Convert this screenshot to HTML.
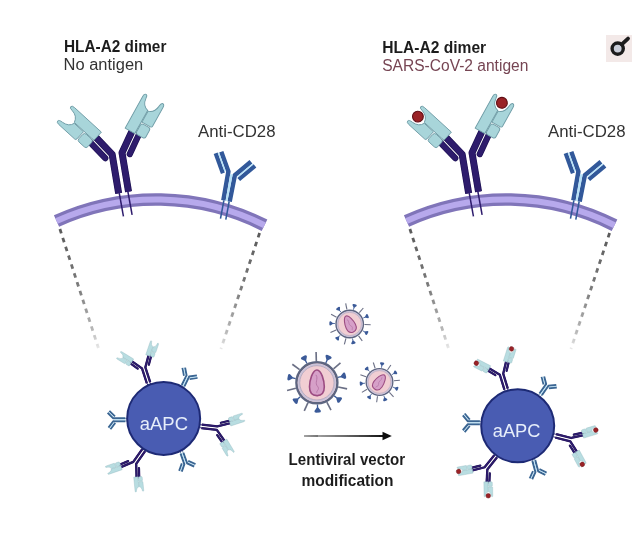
<!DOCTYPE html>
<html><head><meta charset="utf-8"><style>
html,body{margin:0;padding:0;background:#fff;}
body{width:640px;height:535px;overflow:hidden;font-family:"Liberation Sans",sans-serif;}
svg{display:block}
</style></head><body>
<svg width="640" height="535" viewBox="0 0 640 535">
<defs><filter id="soft" x="0" y="0" width="100%" height="100%"><feGaussianBlur stdDeviation="0.35"/></filter></defs>
<rect width="640" height="535" fill="#ffffff"/>
<g filter="url(#soft)"><defs><linearGradient id="dg1" gradientUnits="userSpaceOnUse" x1="59" y1="228" x2="99" y2="348"><stop offset="0" stop-color="#5a5a5a"/><stop offset="0.5" stop-color="#7c7c7c"/><stop offset="0.85" stop-color="#b8b8b8"/><stop offset="1" stop-color="#e8e8e8"/></linearGradient><linearGradient id="dg2" gradientUnits="userSpaceOnUse" x1="260" y1="233" x2="221" y2="349"><stop offset="0" stop-color="#5a5a5a"/><stop offset="0.5" stop-color="#7c7c7c"/><stop offset="0.85" stop-color="#b8b8b8"/><stop offset="1" stop-color="#e8e8e8"/></linearGradient><linearGradient id="dg3" gradientUnits="userSpaceOnUse" x1="409" y1="228" x2="449" y2="348"><stop offset="0" stop-color="#5a5a5a"/><stop offset="0.5" stop-color="#7c7c7c"/><stop offset="0.85" stop-color="#b8b8b8"/><stop offset="1" stop-color="#e8e8e8"/></linearGradient><linearGradient id="dg4" gradientUnits="userSpaceOnUse" x1="610" y1="233" x2="571" y2="349"><stop offset="0" stop-color="#5a5a5a"/><stop offset="0.5" stop-color="#7c7c7c"/><stop offset="0.85" stop-color="#b8b8b8"/><stop offset="1" stop-color="#e8e8e8"/></linearGradient><linearGradient id="arr" x1="0" y1="0" x2="1" y2="0"><stop offset="0" stop-color="#4a4a4a"/><stop offset="1" stop-color="#111"/></linearGradient></defs><g transform="translate(0,0)"><line x1="59.90" y1="229.00" x2="98.40" y2="348.00" stroke="url(#dg1)" stroke-width="2.8" stroke-dasharray="4.6 4.7"/><line x1="259.60" y1="233.00" x2="220.90" y2="349.00" stroke="url(#dg2)" stroke-width="2.8" stroke-dasharray="4.6 4.7"/><path d="M56.50,221.00 A240.93,240.93 0 0 1 264.50,225.25" fill="none" stroke="#8074b9" stroke-width="12.6"/><path d="M56.50,221.00 A240.93,240.93 0 0 1 264.50,225.25" fill="none" stroke="#b7a9ec" stroke-width="6"/><g transform="translate(123.60,192.50) rotate(-9.50) scale(1.0)"><line x1="-4.4" y1="0" x2="-4.1" y2="23.5" stroke="#2d1b6c" stroke-width="1.5"/><line x1="4.4" y1="0" x2="4.7" y2="23.5" stroke="#2d1b6c" stroke-width="1.5"/><polyline points="-5.00,0.00 -5.00,-39.50 -19.30,-60.62" fill="none" stroke="#1d1150" stroke-width="7.0" stroke-linejoin="round"/><polyline points="-5.00,0.00 -5.00,-39.50 -19.30,-60.62" fill="none" stroke="#2d1b6c" stroke-width="5.8" stroke-linejoin="round"/><polyline points="5.00,0.00 5.00,-39.50 19.44,-60.52" fill="none" stroke="#1d1150" stroke-width="7.0" stroke-linejoin="round"/><polyline points="5.00,0.00 5.00,-39.50 19.44,-60.52" fill="none" stroke="#2d1b6c" stroke-width="5.8" stroke-linejoin="round"/><g transform="translate(-18.46,-59.37) rotate(-34.10) scale(-1,1)"><line x1="7.6" y1="-1" x2="7.6" y2="22" stroke="#1d1150" stroke-width="6.2" stroke-linecap="round"/><line x1="7.6" y1="-1" x2="7.6" y2="22" stroke="#2d1b6c" stroke-width="5.0" stroke-linecap="round"/><g transform="rotate(4) scale(1.0)"><path d="M-7.5,1 L-7.5,-35.5 Q-7.5,-38.8 -5.6,-38.8 Q-3.8,-38.8 -3.8,-35.5 Q-3.2,-27.5 3.6,-25.5 L3.6,1 Z" fill="#a8d5da" stroke="#6f9ca6" stroke-width="0.9" stroke-linejoin="round"/><path d="M4.3,-12.5 L4.3,-25 Q10.5,-26.5 11.5,-34.5 Q11.8,-38.8 13.6,-38.8 Q15.6,-38.8 15.6,-35.5 L15.6,-14 Q15.6,-12.5 14,-12.5 Z" fill="#a8d5da" stroke="#6f9ca6" stroke-width="0.9" stroke-linejoin="round"/><rect x="4.3" y="-11.2" width="10.6" height="12" rx="2.5" fill="#a8d5da" stroke="#6f9ca6" stroke-width="0.9"/></g></g><g transform="translate(18.59,-59.28) rotate(34.50) scale(1,1)"><line x1="7.6" y1="-1" x2="7.6" y2="22" stroke="#1d1150" stroke-width="6.2" stroke-linecap="round"/><line x1="7.6" y1="-1" x2="7.6" y2="22" stroke="#2d1b6c" stroke-width="5.0" stroke-linecap="round"/><g transform="rotate(4) scale(1.0)"><path d="M-7.5,1 L-7.5,-35.5 Q-7.5,-38.8 -5.6,-38.8 Q-3.8,-38.8 -3.8,-35.5 Q-3.2,-27.5 3.6,-25.5 L3.6,1 Z" fill="#a8d5da" stroke="#6f9ca6" stroke-width="0.9" stroke-linejoin="round"/><path d="M4.3,-12.5 L4.3,-25 Q10.5,-26.5 11.5,-34.5 Q11.8,-38.8 13.6,-38.8 Q15.6,-38.8 15.6,-35.5 L15.6,-14 Q15.6,-12.5 14,-12.5 Z" fill="#a8d5da" stroke="#6f9ca6" stroke-width="0.9" stroke-linejoin="round"/><rect x="4.3" y="-11.2" width="10.6" height="12" rx="2.5" fill="#a8d5da" stroke="#6f9ca6" stroke-width="0.9"/></g></g></g><g transform="translate(226.50,201.00) rotate(10.50) scale(1.0)"><polyline points="-3.20,0 -3.50,-29.30 -14.13,-47.41" fill="none" stroke="#30599a" stroke-width="4.5" stroke-linejoin="round"/><line x1="-8.61" y1="-26.65" x2="-19.34" y2="-44.93" stroke="#30599a" stroke-width="4.2"/><line x1="-6.80" y1="-29.10" x2="-16.67" y2="-45.92" stroke="#b8e2f8" stroke-width="1.4"/><polyline points="3.20,0 3.50,-26.80 16.86,-43.00" fill="none" stroke="#30599a" stroke-width="4.5" stroke-linejoin="round"/><line x1="8.13" y1="-23.37" x2="21.61" y2="-39.73" stroke="#30599a" stroke-width="4.2"/><line x1="6.73" y1="-26.08" x2="19.13" y2="-41.13" stroke="#b8e2f8" stroke-width="1.4"/><polygon points="-0.95,0 0.95,0 1.25,-27.30 -1.25,-27.30" fill="#b8e2f8"/><line x1="-2.7" y1="0" x2="-2.7" y2="18.5" stroke="#30599a" stroke-width="1.5"/><line x1="2.7" y1="0" x2="2.7" y2="18.5" stroke="#30599a" stroke-width="1.5"/></g></g><g transform="translate(350,0)"><line x1="59.90" y1="229.00" x2="98.40" y2="348.00" stroke="url(#dg1)" stroke-width="2.8" stroke-dasharray="4.6 4.7"/><line x1="259.60" y1="233.00" x2="220.90" y2="349.00" stroke="url(#dg2)" stroke-width="2.8" stroke-dasharray="4.6 4.7"/><path d="M56.50,221.00 A240.93,240.93 0 0 1 264.50,225.25" fill="none" stroke="#8074b9" stroke-width="12.6"/><path d="M56.50,221.00 A240.93,240.93 0 0 1 264.50,225.25" fill="none" stroke="#b7a9ec" stroke-width="6"/><g transform="translate(123.60,192.50) rotate(-9.50) scale(1.0)"><line x1="-4.4" y1="0" x2="-4.1" y2="23.5" stroke="#2d1b6c" stroke-width="1.5"/><line x1="4.4" y1="0" x2="4.7" y2="23.5" stroke="#2d1b6c" stroke-width="1.5"/><polyline points="-5.00,0.00 -5.00,-39.50 -19.30,-60.62" fill="none" stroke="#1d1150" stroke-width="7.0" stroke-linejoin="round"/><polyline points="-5.00,0.00 -5.00,-39.50 -19.30,-60.62" fill="none" stroke="#2d1b6c" stroke-width="5.8" stroke-linejoin="round"/><polyline points="5.00,0.00 5.00,-39.50 19.44,-60.52" fill="none" stroke="#1d1150" stroke-width="7.0" stroke-linejoin="round"/><polyline points="5.00,0.00 5.00,-39.50 19.44,-60.52" fill="none" stroke="#2d1b6c" stroke-width="5.8" stroke-linejoin="round"/><g transform="translate(-18.46,-59.37) rotate(-34.10) scale(-1,1)"><line x1="7.6" y1="-1" x2="7.6" y2="22" stroke="#1d1150" stroke-width="6.2" stroke-linecap="round"/><line x1="7.6" y1="-1" x2="7.6" y2="22" stroke="#2d1b6c" stroke-width="5.0" stroke-linecap="round"/><g transform="rotate(4) scale(1.0)"><path d="M-7.5,1 L-7.5,-35.5 Q-7.5,-38.8 -5.6,-38.8 Q-3.8,-38.8 -3.8,-35.5 Q-3.2,-27.5 3.6,-25.5 L3.6,1 Z" fill="#a8d5da" stroke="#6f9ca6" stroke-width="0.9" stroke-linejoin="round"/><path d="M4.3,-12.5 L4.3,-25 Q10.5,-26.5 11.5,-34.5 Q11.8,-38.8 13.6,-38.8 Q15.6,-38.8 15.6,-35.5 L15.6,-14 Q15.6,-12.5 14,-12.5 Z" fill="#a8d5da" stroke="#6f9ca6" stroke-width="0.9" stroke-linejoin="round"/><rect x="4.3" y="-11.2" width="10.6" height="12" rx="2.5" fill="#a8d5da" stroke="#6f9ca6" stroke-width="0.9"/><circle cx="3.6" cy="-34.2" r="5.4" fill="#9a2327" stroke="#600e14" stroke-width="1.1"/></g></g><g transform="translate(18.59,-59.28) rotate(34.50) scale(1,1)"><line x1="7.6" y1="-1" x2="7.6" y2="22" stroke="#1d1150" stroke-width="6.2" stroke-linecap="round"/><line x1="7.6" y1="-1" x2="7.6" y2="22" stroke="#2d1b6c" stroke-width="5.0" stroke-linecap="round"/><g transform="rotate(4) scale(1.0)"><path d="M-7.5,1 L-7.5,-35.5 Q-7.5,-38.8 -5.6,-38.8 Q-3.8,-38.8 -3.8,-35.5 Q-3.2,-27.5 3.6,-25.5 L3.6,1 Z" fill="#a8d5da" stroke="#6f9ca6" stroke-width="0.9" stroke-linejoin="round"/><path d="M4.3,-12.5 L4.3,-25 Q10.5,-26.5 11.5,-34.5 Q11.8,-38.8 13.6,-38.8 Q15.6,-38.8 15.6,-35.5 L15.6,-14 Q15.6,-12.5 14,-12.5 Z" fill="#a8d5da" stroke="#6f9ca6" stroke-width="0.9" stroke-linejoin="round"/><rect x="4.3" y="-11.2" width="10.6" height="12" rx="2.5" fill="#a8d5da" stroke="#6f9ca6" stroke-width="0.9"/><circle cx="3.6" cy="-34.2" r="5.4" fill="#9a2327" stroke="#600e14" stroke-width="1.1"/></g></g></g><g transform="translate(226.50,201.00) rotate(10.50) scale(1.0)"><polyline points="-3.20,0 -3.50,-29.30 -14.13,-47.41" fill="none" stroke="#30599a" stroke-width="4.5" stroke-linejoin="round"/><line x1="-8.61" y1="-26.65" x2="-19.34" y2="-44.93" stroke="#30599a" stroke-width="4.2"/><line x1="-6.80" y1="-29.10" x2="-16.67" y2="-45.92" stroke="#b8e2f8" stroke-width="1.4"/><polyline points="3.20,0 3.50,-26.80 16.86,-43.00" fill="none" stroke="#30599a" stroke-width="4.5" stroke-linejoin="round"/><line x1="8.13" y1="-23.37" x2="21.61" y2="-39.73" stroke="#30599a" stroke-width="4.2"/><line x1="6.73" y1="-26.08" x2="19.13" y2="-41.13" stroke="#b8e2f8" stroke-width="1.4"/><polygon points="-0.95,0 0.95,0 1.25,-27.30 -1.25,-27.30" fill="#b8e2f8"/><line x1="-2.7" y1="0" x2="-2.7" y2="18.5" stroke="#30599a" stroke-width="1.5"/><line x1="2.7" y1="0" x2="2.7" y2="18.5" stroke="#30599a" stroke-width="1.5"/></g></g><g transform="translate(148.50,382.70) rotate(-18.00) scale(0.41)"><line x1="-3.6999999999999997" y1="0" x2="-3.4" y2="10" stroke="#2d1b6c" stroke-width="2"/><line x1="3.6999999999999997" y1="0" x2="4.0" y2="10" stroke="#2d1b6c" stroke-width="2"/><polyline points="-4.30,0.00 -4.30,-38.00 -23.26,-63.53" fill="none" stroke="#1d1150" stroke-width="5.6000000000000005" stroke-linejoin="round"/><polyline points="-4.30,0.00 -4.30,-38.00 -23.26,-63.53" fill="none" stroke="#2d1b6c" stroke-width="4.4" stroke-linejoin="round"/><polyline points="4.30,0.00 4.30,-38.00 21.57,-64.70" fill="none" stroke="#1d1150" stroke-width="5.6000000000000005" stroke-linejoin="round"/><polyline points="4.30,0.00 4.30,-38.00 21.57,-64.70" fill="none" stroke="#2d1b6c" stroke-width="4.4" stroke-linejoin="round"/><g transform="translate(-22.37,-62.33) rotate(-36.60) scale(-1,1)"><line x1="6.5" y1="-1" x2="6.5" y2="22" stroke="#1d1150" stroke-width="5.4" stroke-linecap="round"/><line x1="6.5" y1="-1" x2="6.5" y2="22" stroke="#2d1b6c" stroke-width="4.2" stroke-linecap="round"/><g transform="rotate(4) scale(0.92)"><path d="M-7.5,1 L-7.5,-35.5 Q-7.5,-38.8 -5.6,-38.8 Q-3.8,-38.8 -3.8,-35.5 Q-3.2,-27.5 3.6,-25.5 L3.6,1 Z" fill="#b8dde1" stroke="#8db5bc" stroke-width="0.9" stroke-linejoin="round"/><path d="M4.3,-12.5 L4.3,-25 Q10.5,-26.5 11.5,-34.5 Q11.8,-38.8 13.6,-38.8 Q15.6,-38.8 15.6,-35.5 L15.6,-14 Q15.6,-12.5 14,-12.5 Z" fill="#b8dde1" stroke="#8db5bc" stroke-width="0.9" stroke-linejoin="round"/><rect x="4.3" y="-11.2" width="10.6" height="12" rx="2.5" fill="#b8dde1" stroke="#8db5bc" stroke-width="0.9"/></g></g><g transform="translate(20.76,-63.44) rotate(32.90) scale(1,1)"><line x1="6.5" y1="-1" x2="6.5" y2="22" stroke="#1d1150" stroke-width="5.4" stroke-linecap="round"/><line x1="6.5" y1="-1" x2="6.5" y2="22" stroke="#2d1b6c" stroke-width="4.2" stroke-linecap="round"/><g transform="rotate(4) scale(0.92)"><path d="M-7.5,1 L-7.5,-35.5 Q-7.5,-38.8 -5.6,-38.8 Q-3.8,-38.8 -3.8,-35.5 Q-3.2,-27.5 3.6,-25.5 L3.6,1 Z" fill="#b8dde1" stroke="#8db5bc" stroke-width="0.9" stroke-linejoin="round"/><path d="M4.3,-12.5 L4.3,-25 Q10.5,-26.5 11.5,-34.5 Q11.8,-38.8 13.6,-38.8 Q15.6,-38.8 15.6,-35.5 L15.6,-14 Q15.6,-12.5 14,-12.5 Z" fill="#b8dde1" stroke="#8db5bc" stroke-width="0.9" stroke-linejoin="round"/><rect x="4.3" y="-11.2" width="10.6" height="12" rx="2.5" fill="#b8dde1" stroke="#8db5bc" stroke-width="0.9"/></g></g></g><g transform="translate(201.60,426.30) rotate(97.00) scale(0.41)"><line x1="-3.6999999999999997" y1="0" x2="-3.4" y2="10" stroke="#2d1b6c" stroke-width="2"/><line x1="3.6999999999999997" y1="0" x2="4.0" y2="10" stroke="#2d1b6c" stroke-width="2"/><polyline points="-4.30,0.00 -4.30,-38.00 -16.67,-69.89" fill="none" stroke="#1d1150" stroke-width="5.6000000000000005" stroke-linejoin="round"/><polyline points="-4.30,0.00 -4.30,-38.00 -16.67,-69.89" fill="none" stroke="#2d1b6c" stroke-width="4.4" stroke-linejoin="round"/><polyline points="4.30,0.00 4.30,-38.00 29.64,-60.97" fill="none" stroke="#1d1150" stroke-width="5.6000000000000005" stroke-linejoin="round"/><polyline points="4.30,0.00 4.30,-38.00 29.64,-60.97" fill="none" stroke="#2d1b6c" stroke-width="4.4" stroke-linejoin="round"/><g transform="translate(-16.13,-68.49) rotate(-21.20) scale(-1,1)"><line x1="6.5" y1="-1" x2="6.5" y2="22" stroke="#1d1150" stroke-width="5.4" stroke-linecap="round"/><line x1="6.5" y1="-1" x2="6.5" y2="22" stroke="#2d1b6c" stroke-width="4.2" stroke-linecap="round"/><g transform="rotate(4) scale(0.92)"><path d="M-7.5,1 L-7.5,-35.5 Q-7.5,-38.8 -5.6,-38.8 Q-3.8,-38.8 -3.8,-35.5 Q-3.2,-27.5 3.6,-25.5 L3.6,1 Z" fill="#b8dde1" stroke="#8db5bc" stroke-width="0.9" stroke-linejoin="round"/><path d="M4.3,-12.5 L4.3,-25 Q10.5,-26.5 11.5,-34.5 Q11.8,-38.8 13.6,-38.8 Q15.6,-38.8 15.6,-35.5 L15.6,-14 Q15.6,-12.5 14,-12.5 Z" fill="#b8dde1" stroke="#8db5bc" stroke-width="0.9" stroke-linejoin="round"/><rect x="4.3" y="-11.2" width="10.6" height="12" rx="2.5" fill="#b8dde1" stroke="#8db5bc" stroke-width="0.9"/></g></g><g transform="translate(28.52,-59.97) rotate(47.80) scale(1,1)"><line x1="6.5" y1="-1" x2="6.5" y2="22" stroke="#1d1150" stroke-width="5.4" stroke-linecap="round"/><line x1="6.5" y1="-1" x2="6.5" y2="22" stroke="#2d1b6c" stroke-width="4.2" stroke-linecap="round"/><g transform="rotate(4) scale(0.92)"><path d="M-7.5,1 L-7.5,-35.5 Q-7.5,-38.8 -5.6,-38.8 Q-3.8,-38.8 -3.8,-35.5 Q-3.2,-27.5 3.6,-25.5 L3.6,1 Z" fill="#b8dde1" stroke="#8db5bc" stroke-width="0.9" stroke-linejoin="round"/><path d="M4.3,-12.5 L4.3,-25 Q10.5,-26.5 11.5,-34.5 Q11.8,-38.8 13.6,-38.8 Q15.6,-38.8 15.6,-35.5 L15.6,-14 Q15.6,-12.5 14,-12.5 Z" fill="#b8dde1" stroke="#8db5bc" stroke-width="0.9" stroke-linejoin="round"/><rect x="4.3" y="-11.2" width="10.6" height="12" rx="2.5" fill="#b8dde1" stroke="#8db5bc" stroke-width="0.9"/></g></g></g><g transform="translate(143.70,450.10) rotate(-144.90) scale(0.41)"><line x1="-3.6999999999999997" y1="0" x2="-3.4" y2="10" stroke="#2d1b6c" stroke-width="2"/><line x1="3.6999999999999997" y1="0" x2="4.0" y2="10" stroke="#2d1b6c" stroke-width="2"/><polyline points="-4.30,0.00 -4.30,-38.00 -24.80,-65.50" fill="none" stroke="#1d1150" stroke-width="5.6000000000000005" stroke-linejoin="round"/><polyline points="-4.30,0.00 -4.30,-38.00 -24.80,-65.50" fill="none" stroke="#2d1b6c" stroke-width="4.4" stroke-linejoin="round"/><polyline points="4.30,0.00 4.30,-38.00 22.37,-67.15" fill="none" stroke="#1d1150" stroke-width="5.6000000000000005" stroke-linejoin="round"/><polyline points="4.30,0.00 4.30,-38.00 22.37,-67.15" fill="none" stroke="#2d1b6c" stroke-width="4.4" stroke-linejoin="round"/><g transform="translate(-23.90,-64.30) rotate(-36.70) scale(-1,1)"><line x1="6.5" y1="-1" x2="6.5" y2="22" stroke="#1d1150" stroke-width="5.4" stroke-linecap="round"/><line x1="6.5" y1="-1" x2="6.5" y2="22" stroke="#2d1b6c" stroke-width="4.2" stroke-linecap="round"/><g transform="rotate(4) scale(0.92)"><path d="M-7.5,1 L-7.5,-35.5 Q-7.5,-38.8 -5.6,-38.8 Q-3.8,-38.8 -3.8,-35.5 Q-3.2,-27.5 3.6,-25.5 L3.6,1 Z" fill="#b8dde1" stroke="#8db5bc" stroke-width="0.9" stroke-linejoin="round"/><path d="M4.3,-12.5 L4.3,-25 Q10.5,-26.5 11.5,-34.5 Q11.8,-38.8 13.6,-38.8 Q15.6,-38.8 15.6,-35.5 L15.6,-14 Q15.6,-12.5 14,-12.5 Z" fill="#b8dde1" stroke="#8db5bc" stroke-width="0.9" stroke-linejoin="round"/><rect x="4.3" y="-11.2" width="10.6" height="12" rx="2.5" fill="#b8dde1" stroke="#8db5bc" stroke-width="0.9"/></g></g><g transform="translate(21.58,-65.88) rotate(31.80) scale(1,1)"><line x1="6.5" y1="-1" x2="6.5" y2="22" stroke="#1d1150" stroke-width="5.4" stroke-linecap="round"/><line x1="6.5" y1="-1" x2="6.5" y2="22" stroke="#2d1b6c" stroke-width="4.2" stroke-linecap="round"/><g transform="rotate(4) scale(0.92)"><path d="M-7.5,1 L-7.5,-35.5 Q-7.5,-38.8 -5.6,-38.8 Q-3.8,-38.8 -3.8,-35.5 Q-3.2,-27.5 3.6,-25.5 L3.6,1 Z" fill="#b8dde1" stroke="#8db5bc" stroke-width="0.9" stroke-linejoin="round"/><path d="M4.3,-12.5 L4.3,-25 Q10.5,-26.5 11.5,-34.5 Q11.8,-38.8 13.6,-38.8 Q15.6,-38.8 15.6,-35.5 L15.6,-14 Q15.6,-12.5 14,-12.5 Z" fill="#b8dde1" stroke="#8db5bc" stroke-width="0.9" stroke-linejoin="round"/><rect x="4.3" y="-11.2" width="10.6" height="12" rx="2.5" fill="#b8dde1" stroke="#8db5bc" stroke-width="0.9"/></g></g></g><g transform="translate(183.10,385.70) rotate(26.00) scale(0.45)"><polyline points="-3.20,0 -3.20,-24.00 -13.73,-37.98" fill="none" stroke="#3a6592" stroke-width="4.5" stroke-linejoin="round"/><line x1="-7.97" y1="-20.78" x2="-18.62" y2="-34.92" stroke="#3a6592" stroke-width="4.2"/><line x1="-6.46" y1="-23.42" x2="-16.09" y2="-36.20" stroke="#b8e2f8" stroke-width="1.4"/><polyline points="3.20,0 3.20,-24.00 17.54,-34.04" fill="none" stroke="#3a6592" stroke-width="4.5" stroke-linejoin="round"/><line x1="6.74" y1="-19.46" x2="21.24" y2="-29.61" stroke="#3a6592" stroke-width="4.2"/><line x1="6.12" y1="-22.44" x2="19.23" y2="-31.62" stroke="#b8e2f8" stroke-width="1.4"/><polygon points="-0.95,0 0.95,0 0.95,-22.00 -0.95,-22.00" fill="#b8e2f8"/><line x1="-2.7" y1="0" x2="-2.7" y2="8" stroke="#3a6592" stroke-width="1.5"/><line x1="2.7" y1="0" x2="2.7" y2="8" stroke="#3a6592" stroke-width="1.5"/></g><g transform="translate(125.40,419.80) rotate(-90.00) scale(0.45)"><polyline points="-3.20,0 -3.20,-27.00 -17.18,-37.53" fill="none" stroke="#3a6592" stroke-width="4.5" stroke-linejoin="round"/><line x1="-6.90" y1="-22.59" x2="-21.04" y2="-33.24" stroke="#3a6592" stroke-width="4.2"/><line x1="-6.17" y1="-25.55" x2="-18.95" y2="-35.18" stroke="#b8e2f8" stroke-width="1.4"/><polyline points="3.20,0 3.20,-27.00 15.57,-39.37" fill="none" stroke="#3a6592" stroke-width="4.5" stroke-linejoin="round"/><line x1="7.48" y1="-23.15" x2="19.99" y2="-35.66" stroke="#3a6592" stroke-width="4.2"/><line x1="6.35" y1="-25.97" x2="17.66" y2="-37.29" stroke="#b8e2f8" stroke-width="1.4"/><polygon points="-0.95,0 0.95,0 0.95,-25.00 -0.95,-25.00" fill="#b8e2f8"/><line x1="-2.7" y1="0" x2="-2.7" y2="8" stroke="#3a6592" stroke-width="1.5"/><line x1="2.7" y1="0" x2="2.7" y2="8" stroke="#3a6592" stroke-width="1.5"/></g><g transform="translate(182.00,453.20) rotate(160.60) scale(0.45)"><polyline points="-3.20,0 -3.20,-24.70 -15.79,-36.86" fill="none" stroke="#3a6592" stroke-width="4.5" stroke-linejoin="round"/><line x1="-7.41" y1="-20.77" x2="-20.14" y2="-33.07" stroke="#3a6592" stroke-width="4.2"/><line x1="-6.33" y1="-23.62" x2="-17.84" y2="-34.73" stroke="#b8e2f8" stroke-width="1.4"/><polyline points="3.20,0 3.20,-24.70 14.21,-38.30" fill="none" stroke="#3a6592" stroke-width="4.5" stroke-linejoin="round"/><line x1="7.86" y1="-21.31" x2="19.00" y2="-35.07" stroke="#3a6592" stroke-width="4.2"/><line x1="6.44" y1="-24.01" x2="16.51" y2="-36.44" stroke="#b8e2f8" stroke-width="1.4"/><polygon points="-0.95,0 0.95,0 0.95,-22.70 -0.95,-22.70" fill="#b8e2f8"/><line x1="-2.7" y1="0" x2="-2.7" y2="8" stroke="#3a6592" stroke-width="1.5"/><line x1="2.7" y1="0" x2="2.7" y2="8" stroke="#3a6592" stroke-width="1.5"/></g><circle cx="163.65" cy="418.45" r="36.50" fill="#4a5cb2" stroke="#1f2a75" stroke-width="2"/><g font-family="Liberation Sans, sans-serif"><text x="139.80" y="430.2" font-size="18.7" font-weight="normal" fill="#e6eefa" textLength="48.21" lengthAdjust="spacingAndGlyphs">aAPC</text></g><g transform="translate(506.10,389.10) rotate(-17.10) scale(0.41)"><line x1="-3.6999999999999997" y1="0" x2="-3.4" y2="10" stroke="#2d1b6c" stroke-width="2"/><line x1="3.6999999999999997" y1="0" x2="4.0" y2="10" stroke="#2d1b6c" stroke-width="2"/><polyline points="-4.30,0.00 -4.30,-38.00 -25.79,-62.12" fill="none" stroke="#1d1150" stroke-width="5.6000000000000005" stroke-linejoin="round"/><polyline points="-4.30,0.00 -4.30,-38.00 -25.79,-62.12" fill="none" stroke="#2d1b6c" stroke-width="4.4" stroke-linejoin="round"/><polyline points="4.30,0.00 4.30,-38.00 20.74,-65.80" fill="none" stroke="#1d1150" stroke-width="5.6000000000000005" stroke-linejoin="round"/><polyline points="4.30,0.00 4.30,-38.00 20.74,-65.80" fill="none" stroke="#2d1b6c" stroke-width="4.4" stroke-linejoin="round"/><g transform="translate(-24.79,-61.00) rotate(-41.70) scale(-1,1)"><line x1="6.5" y1="-1" x2="6.5" y2="22" stroke="#1d1150" stroke-width="5.4" stroke-linecap="round"/><line x1="6.5" y1="-1" x2="6.5" y2="22" stroke="#2d1b6c" stroke-width="4.2" stroke-linecap="round"/><g transform="rotate(4) scale(0.92)"><path d="M-7.5,1 L-7.5,-35.5 Q-7.5,-38.8 -5.6,-38.8 Q-3.8,-38.8 -3.8,-35.5 Q-3.2,-27.5 3.6,-25.5 L3.6,1 Z" fill="#b8dde1" stroke="#8db5bc" stroke-width="0.9" stroke-linejoin="round"/><path d="M4.3,-12.5 L4.3,-25 Q10.5,-26.5 11.5,-34.5 Q11.8,-38.8 13.6,-38.8 Q15.6,-38.8 15.6,-35.5 L15.6,-14 Q15.6,-12.5 14,-12.5 Z" fill="#b8dde1" stroke="#8db5bc" stroke-width="0.9" stroke-linejoin="round"/><rect x="4.3" y="-11.2" width="10.6" height="12" rx="2.5" fill="#b8dde1" stroke="#8db5bc" stroke-width="0.9"/><circle cx="3.6" cy="-36" r="6.2" fill="#9a2327" stroke="#600e14" stroke-width="1.1"/></g></g><g transform="translate(19.98,-64.51) rotate(30.60) scale(1,1)"><line x1="6.5" y1="-1" x2="6.5" y2="22" stroke="#1d1150" stroke-width="5.4" stroke-linecap="round"/><line x1="6.5" y1="-1" x2="6.5" y2="22" stroke="#2d1b6c" stroke-width="4.2" stroke-linecap="round"/><g transform="rotate(4) scale(0.92)"><path d="M-7.5,1 L-7.5,-35.5 Q-7.5,-38.8 -5.6,-38.8 Q-3.8,-38.8 -3.8,-35.5 Q-3.2,-27.5 3.6,-25.5 L3.6,1 Z" fill="#b8dde1" stroke="#8db5bc" stroke-width="0.9" stroke-linejoin="round"/><path d="M4.3,-12.5 L4.3,-25 Q10.5,-26.5 11.5,-34.5 Q11.8,-38.8 13.6,-38.8 Q15.6,-38.8 15.6,-35.5 L15.6,-14 Q15.6,-12.5 14,-12.5 Z" fill="#b8dde1" stroke="#8db5bc" stroke-width="0.9" stroke-linejoin="round"/><rect x="4.3" y="-11.2" width="10.6" height="12" rx="2.5" fill="#b8dde1" stroke="#8db5bc" stroke-width="0.9"/><circle cx="3.6" cy="-36" r="6.2" fill="#9a2327" stroke="#600e14" stroke-width="1.1"/></g></g></g><g transform="translate(555.70,435.80) rotate(104.50) scale(0.41)"><line x1="-3.6999999999999997" y1="0" x2="-3.4" y2="10" stroke="#2d1b6c" stroke-width="2"/><line x1="3.6999999999999997" y1="0" x2="4.0" y2="10" stroke="#2d1b6c" stroke-width="2"/><polyline points="-4.30,0.00 -4.30,-38.00 -18.75,-65.99" fill="none" stroke="#1d1150" stroke-width="5.6000000000000005" stroke-linejoin="round"/><polyline points="-4.30,0.00 -4.30,-38.00 -18.75,-65.99" fill="none" stroke="#2d1b6c" stroke-width="4.4" stroke-linejoin="round"/><polyline points="4.30,0.00 4.30,-38.00 25.74,-61.08" fill="none" stroke="#1d1150" stroke-width="5.6000000000000005" stroke-linejoin="round"/><polyline points="4.30,0.00 4.30,-38.00 25.74,-61.08" fill="none" stroke="#2d1b6c" stroke-width="4.4" stroke-linejoin="round"/><g transform="translate(-18.06,-64.66) rotate(-27.30) scale(-1,1)"><line x1="6.5" y1="-1" x2="6.5" y2="22" stroke="#1d1150" stroke-width="5.4" stroke-linecap="round"/><line x1="6.5" y1="-1" x2="6.5" y2="22" stroke="#2d1b6c" stroke-width="4.2" stroke-linecap="round"/><g transform="rotate(4) scale(0.92)"><path d="M-7.5,1 L-7.5,-35.5 Q-7.5,-38.8 -5.6,-38.8 Q-3.8,-38.8 -3.8,-35.5 Q-3.2,-27.5 3.6,-25.5 L3.6,1 Z" fill="#b8dde1" stroke="#8db5bc" stroke-width="0.9" stroke-linejoin="round"/><path d="M4.3,-12.5 L4.3,-25 Q10.5,-26.5 11.5,-34.5 Q11.8,-38.8 13.6,-38.8 Q15.6,-38.8 15.6,-35.5 L15.6,-14 Q15.6,-12.5 14,-12.5 Z" fill="#b8dde1" stroke="#8db5bc" stroke-width="0.9" stroke-linejoin="round"/><rect x="4.3" y="-11.2" width="10.6" height="12" rx="2.5" fill="#b8dde1" stroke="#8db5bc" stroke-width="0.9"/><circle cx="3.6" cy="-36" r="6.2" fill="#9a2327" stroke="#600e14" stroke-width="1.1"/></g></g><g transform="translate(24.72,-59.98) rotate(42.90) scale(1,1)"><line x1="6.5" y1="-1" x2="6.5" y2="22" stroke="#1d1150" stroke-width="5.4" stroke-linecap="round"/><line x1="6.5" y1="-1" x2="6.5" y2="22" stroke="#2d1b6c" stroke-width="4.2" stroke-linecap="round"/><g transform="rotate(4) scale(0.92)"><path d="M-7.5,1 L-7.5,-35.5 Q-7.5,-38.8 -5.6,-38.8 Q-3.8,-38.8 -3.8,-35.5 Q-3.2,-27.5 3.6,-25.5 L3.6,1 Z" fill="#b8dde1" stroke="#8db5bc" stroke-width="0.9" stroke-linejoin="round"/><path d="M4.3,-12.5 L4.3,-25 Q10.5,-26.5 11.5,-34.5 Q11.8,-38.8 13.6,-38.8 Q15.6,-38.8 15.6,-35.5 L15.6,-14 Q15.6,-12.5 14,-12.5 Z" fill="#b8dde1" stroke="#8db5bc" stroke-width="0.9" stroke-linejoin="round"/><rect x="4.3" y="-11.2" width="10.6" height="12" rx="2.5" fill="#b8dde1" stroke="#8db5bc" stroke-width="0.9"/><circle cx="3.6" cy="-36" r="6.2" fill="#9a2327" stroke="#600e14" stroke-width="1.1"/></g></g></g><g transform="translate(495.70,456.20) rotate(-141.30) scale(0.41)"><line x1="-3.6999999999999997" y1="0" x2="-3.4" y2="10" stroke="#2d1b6c" stroke-width="2"/><line x1="3.6999999999999997" y1="0" x2="4.0" y2="10" stroke="#2d1b6c" stroke-width="2"/><polyline points="-4.30,0.00 -4.30,-38.00 -23.32,-64.47" fill="none" stroke="#1d1150" stroke-width="5.6000000000000005" stroke-linejoin="round"/><polyline points="-4.30,0.00 -4.30,-38.00 -23.32,-64.47" fill="none" stroke="#2d1b6c" stroke-width="4.4" stroke-linejoin="round"/><polyline points="4.30,0.00 4.30,-38.00 23.96,-64.00" fill="none" stroke="#1d1150" stroke-width="5.6000000000000005" stroke-linejoin="round"/><polyline points="4.30,0.00 4.30,-38.00 23.96,-64.00" fill="none" stroke="#2d1b6c" stroke-width="4.4" stroke-linejoin="round"/><g transform="translate(-22.45,-63.26) rotate(-35.70) scale(-1,1)"><line x1="6.5" y1="-1" x2="6.5" y2="22" stroke="#1d1150" stroke-width="5.4" stroke-linecap="round"/><line x1="6.5" y1="-1" x2="6.5" y2="22" stroke="#2d1b6c" stroke-width="4.2" stroke-linecap="round"/><g transform="rotate(4) scale(0.92)"><path d="M-7.5,1 L-7.5,-35.5 Q-7.5,-38.8 -5.6,-38.8 Q-3.8,-38.8 -3.8,-35.5 Q-3.2,-27.5 3.6,-25.5 L3.6,1 Z" fill="#b8dde1" stroke="#8db5bc" stroke-width="0.9" stroke-linejoin="round"/><path d="M4.3,-12.5 L4.3,-25 Q10.5,-26.5 11.5,-34.5 Q11.8,-38.8 13.6,-38.8 Q15.6,-38.8 15.6,-35.5 L15.6,-14 Q15.6,-12.5 14,-12.5 Z" fill="#b8dde1" stroke="#8db5bc" stroke-width="0.9" stroke-linejoin="round"/><rect x="4.3" y="-11.2" width="10.6" height="12" rx="2.5" fill="#b8dde1" stroke="#8db5bc" stroke-width="0.9"/><circle cx="3.6" cy="-36" r="6.2" fill="#9a2327" stroke="#600e14" stroke-width="1.1"/></g></g><g transform="translate(23.06,-62.80) rotate(37.10) scale(1,1)"><line x1="6.5" y1="-1" x2="6.5" y2="22" stroke="#1d1150" stroke-width="5.4" stroke-linecap="round"/><line x1="6.5" y1="-1" x2="6.5" y2="22" stroke="#2d1b6c" stroke-width="4.2" stroke-linecap="round"/><g transform="rotate(4) scale(0.92)"><path d="M-7.5,1 L-7.5,-35.5 Q-7.5,-38.8 -5.6,-38.8 Q-3.8,-38.8 -3.8,-35.5 Q-3.2,-27.5 3.6,-25.5 L3.6,1 Z" fill="#b8dde1" stroke="#8db5bc" stroke-width="0.9" stroke-linejoin="round"/><path d="M4.3,-12.5 L4.3,-25 Q10.5,-26.5 11.5,-34.5 Q11.8,-38.8 13.6,-38.8 Q15.6,-38.8 15.6,-35.5 L15.6,-14 Q15.6,-12.5 14,-12.5 Z" fill="#b8dde1" stroke="#8db5bc" stroke-width="0.9" stroke-linejoin="round"/><rect x="4.3" y="-11.2" width="10.6" height="12" rx="2.5" fill="#b8dde1" stroke="#8db5bc" stroke-width="0.9"/><circle cx="3.6" cy="-36" r="6.2" fill="#9a2327" stroke="#600e14" stroke-width="1.1"/></g></g></g><g transform="translate(540.70,394.30) rotate(35.00) scale(0.45)"><polyline points="-3.20,0 -3.20,-25.50 -16.51,-36.87" fill="none" stroke="#3a6592" stroke-width="4.5" stroke-linejoin="round"/><line x1="-7.16" y1="-21.32" x2="-20.62" y2="-32.82" stroke="#3a6592" stroke-width="4.2"/><line x1="-6.26" y1="-24.23" x2="-18.42" y2="-34.62" stroke="#b8e2f8" stroke-width="1.4"/><polyline points="3.20,0 3.20,-25.50 16.51,-36.87" fill="none" stroke="#3a6592" stroke-width="4.5" stroke-linejoin="round"/><line x1="7.16" y1="-21.32" x2="20.62" y2="-32.82" stroke="#3a6592" stroke-width="4.2"/><line x1="6.26" y1="-24.23" x2="18.42" y2="-34.62" stroke="#b8e2f8" stroke-width="1.4"/><polygon points="-0.95,0 0.95,0 0.95,-23.50 -0.95,-23.50" fill="#b8e2f8"/><line x1="-2.7" y1="0" x2="-2.7" y2="8" stroke="#3a6592" stroke-width="1.5"/><line x1="2.7" y1="0" x2="2.7" y2="8" stroke="#3a6592" stroke-width="1.5"/></g><g transform="translate(479.90,422.80) rotate(-90.00) scale(0.45)"><polyline points="-3.20,0 -3.20,-26.70 -16.61,-37.95" fill="none" stroke="#3a6592" stroke-width="4.5" stroke-linejoin="round"/><line x1="-7.13" y1="-22.49" x2="-20.68" y2="-33.87" stroke="#3a6592" stroke-width="4.2"/><line x1="-6.25" y1="-25.40" x2="-18.50" y2="-35.69" stroke="#b8e2f8" stroke-width="1.4"/><polyline points="3.20,0 3.20,-26.70 16.61,-37.95" fill="none" stroke="#3a6592" stroke-width="4.5" stroke-linejoin="round"/><line x1="7.13" y1="-22.49" x2="20.68" y2="-33.87" stroke="#3a6592" stroke-width="4.2"/><line x1="6.25" y1="-25.40" x2="18.50" y2="-35.69" stroke="#b8e2f8" stroke-width="1.4"/><polygon points="-0.95,0 0.95,0 0.95,-24.70 -0.95,-24.70" fill="#b8e2f8"/><line x1="-2.7" y1="0" x2="-2.7" y2="8" stroke="#3a6592" stroke-width="1.5"/><line x1="2.7" y1="0" x2="2.7" y2="8" stroke="#3a6592" stroke-width="1.5"/></g><g transform="translate(533.80,460.50) rotate(165.00) scale(0.45)"><polyline points="-3.20,0 -3.20,-25.80 -16.41,-37.28" fill="none" stroke="#3a6592" stroke-width="4.5" stroke-linejoin="round"/><line x1="-7.20" y1="-21.66" x2="-20.56" y2="-33.27" stroke="#3a6592" stroke-width="4.2"/><line x1="-6.27" y1="-24.56" x2="-18.34" y2="-35.05" stroke="#b8e2f8" stroke-width="1.4"/><polyline points="3.20,0 3.20,-25.80 14.33,-39.30" fill="none" stroke="#3a6592" stroke-width="4.5" stroke-linejoin="round"/><line x1="7.83" y1="-22.37" x2="19.09" y2="-36.03" stroke="#3a6592" stroke-width="4.2"/><line x1="6.43" y1="-25.08" x2="16.61" y2="-37.43" stroke="#b8e2f8" stroke-width="1.4"/><polygon points="-0.95,0 0.95,0 0.95,-23.80 -0.95,-23.80" fill="#b8e2f8"/><line x1="-2.7" y1="0" x2="-2.7" y2="8" stroke="#3a6592" stroke-width="1.5"/><line x1="2.7" y1="0" x2="2.7" y2="8" stroke="#3a6592" stroke-width="1.5"/></g><circle cx="517.70" cy="425.80" r="36.50" fill="#4a5cb2" stroke="#1f2a75" stroke-width="2"/><g font-family="Liberation Sans, sans-serif"><text x="492.80" y="437.0" font-size="18.7" font-weight="normal" fill="#e6eefa" textLength="47.69" lengthAdjust="spacingAndGlyphs">aAPC</text></g><line x1="346.88" y1="309.47" x2="345.69" y2="303.37" stroke="#6b6f85" stroke-width="1.11"/><line x1="353.46" y1="309.69" x2="353.99" y2="307.68" stroke="#3b5a98" stroke-width="0.89"/><g transform="translate(354.17,306.97) rotate(14.71) scale(0.682)"><path d="M0,2 L-3.2,-2.2 Q-3.5,-4 -1.5,-4 L1.5,-4 Q3.5,-4 3.2,-2.2 Z" fill="#3b5a98"/></g><line x1="359.30" y1="312.73" x2="363.33" y2="308.00" stroke="#6b6f85" stroke-width="1.11"/><line x1="363.24" y1="318.01" x2="365.13" y2="317.18" stroke="#3b5a98" stroke-width="0.89"/><g transform="translate(365.81,316.88) rotate(66.14) scale(0.682)"><path d="M0,2 L-3.2,-2.2 Q-3.5,-4 -1.5,-4 L1.5,-4 Q3.5,-4 3.2,-2.2 Z" fill="#3b5a98"/></g><line x1="364.49" y1="324.48" x2="370.70" y2="324.68" stroke="#6b6f85" stroke-width="1.11"/><line x1="362.82" y1="330.85" x2="364.66" y2="331.81" stroke="#3b5a98" stroke-width="0.89"/><g transform="translate(365.31,332.15) rotate(117.57) scale(0.682)"><path d="M0,2 L-3.2,-2.2 Q-3.5,-4 -1.5,-4 L1.5,-4 Q3.5,-4 3.2,-2.2 Z" fill="#3b5a98"/></g><line x1="358.55" y1="335.86" x2="362.26" y2="340.85" stroke="#6b6f85" stroke-width="1.11"/><line x1="352.52" y1="338.53" x2="352.92" y2="340.56" stroke="#3b5a98" stroke-width="0.89"/><g transform="translate(353.06,341.29) rotate(169.00) scale(0.682)"><path d="M0,2 L-3.2,-2.2 Q-3.5,-4 -1.5,-4 L1.5,-4 Q3.5,-4 3.2,-2.2 Z" fill="#3b5a98"/></g><line x1="345.94" y1="338.31" x2="344.36" y2="344.33" stroke="#6b6f85" stroke-width="1.11"/><line x1="340.10" y1="335.27" x2="338.76" y2="336.84" stroke="#3b5a98" stroke-width="0.89"/><g transform="translate(338.28,337.41) rotate(220.43) scale(0.682)"><path d="M0,2 L-3.2,-2.2 Q-3.5,-4 -1.5,-4 L1.5,-4 Q3.5,-4 3.2,-2.2 Z" fill="#3b5a98"/></g><line x1="336.16" y1="329.99" x2="330.48" y2="332.50" stroke="#6b6f85" stroke-width="1.11"/><line x1="334.91" y1="323.52" x2="332.84" y2="323.45" stroke="#3b5a98" stroke-width="0.89"/><g transform="translate(332.10,323.43) rotate(271.86) scale(0.682)"><path d="M0,2 L-3.2,-2.2 Q-3.5,-4 -1.5,-4 L1.5,-4 Q3.5,-4 3.2,-2.2 Z" fill="#3b5a98"/></g><line x1="336.58" y1="317.15" x2="331.07" y2="314.27" stroke="#6b6f85" stroke-width="1.11"/><line x1="340.85" y1="312.14" x2="339.61" y2="310.47" stroke="#3b5a98" stroke-width="0.89"/><g transform="translate(339.17,309.88) rotate(323.29) scale(0.682)"><path d="M0,2 L-3.2,-2.2 Q-3.5,-4 -1.5,-4 L1.5,-4 Q3.5,-4 3.2,-2.2 Z" fill="#3b5a98"/></g><circle cx="349.70" cy="324.00" r="13.60" fill="#f1ced3" stroke="#5d6580" stroke-width="1.63"/><circle cx="349.70" cy="324.00" r="12.43" fill="none" stroke="#c9c3da" stroke-width="1.18"/><circle cx="349.70" cy="324.00" r="11.69" fill="none" stroke="#9f9ab5" stroke-width="0.44"/><g transform="translate(349.70,324.00) rotate(-25) scale(0.682)"><path d="M0,-12.8 C4.5,-12.8 7.4,-2 7.4,4 C7.4,10 4.2,12.8 0,12.8 C-4.2,12.8 -7.4,10 -7.4,4 C-7.4,-2 -4.5,-12.8 0,-12.8 Z" fill="#d6a0c8" stroke="#9c4c82" stroke-width="1.6"/><path d="M-1,-8 C2,-4 -3,0 1,4 C3,7 -1,8 0,10" fill="none" stroke="#b878a8" stroke-width="1"/></g><line x1="316.33" y1="361.11" x2="316.09" y2="352.00" stroke="#6b6f85" stroke-width="1.63"/><line x1="325.80" y1="363.01" x2="327.05" y2="360.24" stroke="#3b5a98" stroke-width="1.30"/><g transform="translate(327.49,359.25) rotate(24.21) scale(1.000)"><path d="M0,2 L-3.2,-2.2 Q-3.5,-4 -1.5,-4 L1.5,-4 Q3.5,-4 3.2,-2.2 Z" fill="#3b5a98"/></g><line x1="333.51" y1="368.83" x2="340.48" y2="362.96" stroke="#6b6f85" stroke-width="1.63"/><line x1="337.92" y1="377.42" x2="340.87" y2="376.67" stroke="#3b5a98" stroke-width="1.30"/><g transform="translate(341.92,376.40) rotate(75.64) scale(1.000)"><path d="M0,2 L-3.2,-2.2 Q-3.5,-4 -1.5,-4 L1.5,-4 Q3.5,-4 3.2,-2.2 Z" fill="#3b5a98"/></g><line x1="338.18" y1="387.07" x2="347.11" y2="388.87" stroke="#6b6f85" stroke-width="1.63"/><line x1="334.21" y1="395.88" x2="336.64" y2="397.71" stroke="#3b5a98" stroke-width="1.30"/><g transform="translate(337.50,398.37) rotate(127.07) scale(1.000)"><path d="M0,2 L-3.2,-2.2 Q-3.5,-4 -1.5,-4 L1.5,-4 Q3.5,-4 3.2,-2.2 Z" fill="#3b5a98"/></g><line x1="326.82" y1="402.10" x2="330.99" y2="410.20" stroke="#6b6f85" stroke-width="1.63"/><line x1="317.47" y1="404.49" x2="317.55" y2="407.53" stroke="#3b5a98" stroke-width="1.30"/><g transform="translate(317.58,408.61) rotate(178.50) scale(1.000)"><path d="M0,2 L-3.2,-2.2 Q-3.5,-4 -1.5,-4 L1.5,-4 Q3.5,-4 3.2,-2.2 Z" fill="#3b5a98"/></g><line x1="308.00" y1="402.59" x2="304.26" y2="410.90" stroke="#6b6f85" stroke-width="1.63"/><line x1="300.29" y1="396.77" x2="297.97" y2="398.72" stroke="#3b5a98" stroke-width="1.30"/><g transform="translate(297.14,399.42) rotate(229.93) scale(1.000)"><path d="M0,2 L-3.2,-2.2 Q-3.5,-4 -1.5,-4 L1.5,-4 Q3.5,-4 3.2,-2.2 Z" fill="#3b5a98"/></g><line x1="295.88" y1="388.18" x2="287.05" y2="390.44" stroke="#6b6f85" stroke-width="1.63"/><line x1="295.62" y1="378.53" x2="292.65" y2="377.93" stroke="#3b5a98" stroke-width="1.30"/><g transform="translate(291.58,377.71) rotate(281.36) scale(1.000)"><path d="M0,2 L-3.2,-2.2 Q-3.5,-4 -1.5,-4 L1.5,-4 Q3.5,-4 3.2,-2.2 Z" fill="#3b5a98"/></g><line x1="299.59" y1="369.72" x2="292.31" y2="364.23" stroke="#6b6f85" stroke-width="1.63"/><line x1="306.98" y1="363.50" x2="305.59" y2="360.80" stroke="#3b5a98" stroke-width="1.30"/><g transform="translate(305.09,359.84) rotate(332.79) scale(1.000)"><path d="M0,2 L-3.2,-2.2 Q-3.5,-4 -1.5,-4 L1.5,-4 Q3.5,-4 3.2,-2.2 Z" fill="#3b5a98"/></g><circle cx="316.90" cy="382.80" r="20.50" fill="#f1ced3" stroke="#5d6580" stroke-width="2.39"/><circle cx="316.90" cy="382.80" r="18.23" fill="none" stroke="#c9c3da" stroke-width="1.74"/><circle cx="316.90" cy="382.80" r="17.14" fill="none" stroke="#9f9ab5" stroke-width="0.65"/><g transform="translate(316.90,382.80) rotate(0) scale(1.000)"><path d="M0,-12.8 C4.5,-12.8 7.4,-2 7.4,4 C7.4,10 4.2,12.8 0,12.8 C-4.2,12.8 -7.4,10 -7.4,4 C-7.4,-2 -4.5,-12.8 0,-12.8 Z" fill="#d6a0c8" stroke="#9c4c82" stroke-width="1.6"/><path d="M-1,-8 C2,-4 -3,0 1,4 C3,7 -1,8 0,10" fill="none" stroke="#b878a8" stroke-width="1"/></g><line x1="381.50" y1="367.74" x2="381.78" y2="365.74" stroke="#3b5a98" stroke-width="0.86"/><g transform="translate(381.88,365.03) rotate(8.00) scale(0.664)"><path d="M0,2 L-3.2,-2.2 Q-3.5,-4 -1.5,-4 L1.5,-4 Q3.5,-4 3.2,-2.2 Z" fill="#3b5a98"/></g><line x1="387.49" y1="370.02" x2="390.85" y2="364.99" stroke="#6b6f85" stroke-width="1.08"/><line x1="391.90" y1="374.68" x2="393.63" y2="373.65" stroke="#3b5a98" stroke-width="0.86"/><g transform="translate(394.25,373.28) rotate(59.43) scale(0.664)"><path d="M0,2 L-3.2,-2.2 Q-3.5,-4 -1.5,-4 L1.5,-4 Q3.5,-4 3.2,-2.2 Z" fill="#3b5a98"/></g><line x1="393.85" y1="380.78" x2="399.87" y2="380.27" stroke="#6b6f85" stroke-width="1.08"/><line x1="392.96" y1="387.13" x2="394.84" y2="387.84" stroke="#3b5a98" stroke-width="0.86"/><g transform="translate(395.51,388.10) rotate(110.86) scale(0.664)"><path d="M0,2 L-3.2,-2.2 Q-3.5,-4 -1.5,-4 L1.5,-4 Q3.5,-4 3.2,-2.2 Z" fill="#3b5a98"/></g><line x1="389.40" y1="392.46" x2="393.56" y2="396.85" stroke="#6b6f85" stroke-width="1.08"/><line x1="383.88" y1="395.72" x2="384.49" y2="397.64" stroke="#3b5a98" stroke-width="0.86"/><g transform="translate(384.71,398.32) rotate(162.29) scale(0.664)"><path d="M0,2 L-3.2,-2.2 Q-3.5,-4 -1.5,-4 L1.5,-4 Q3.5,-4 3.2,-2.2 Z" fill="#3b5a98"/></g><line x1="377.50" y1="396.26" x2="376.65" y2="402.25" stroke="#6b6f85" stroke-width="1.08"/><line x1="371.51" y1="393.98" x2="370.39" y2="395.66" stroke="#3b5a98" stroke-width="0.86"/><g transform="translate(369.99,396.25) rotate(213.71) scale(0.664)"><path d="M0,2 L-3.2,-2.2 Q-3.5,-4 -1.5,-4 L1.5,-4 Q3.5,-4 3.2,-2.2 Z" fill="#3b5a98"/></g><line x1="367.10" y1="389.32" x2="361.89" y2="392.40" stroke="#6b6f85" stroke-width="1.08"/><line x1="365.15" y1="383.22" x2="363.14" y2="383.39" stroke="#3b5a98" stroke-width="0.86"/><g transform="translate(362.43,383.45) rotate(265.14) scale(0.664)"><path d="M0,2 L-3.2,-2.2 Q-3.5,-4 -1.5,-4 L1.5,-4 Q3.5,-4 3.2,-2.2 Z" fill="#3b5a98"/></g><line x1="366.04" y1="376.87" x2="360.39" y2="374.72" stroke="#6b6f85" stroke-width="1.08"/><line x1="369.60" y1="371.54" x2="368.21" y2="370.08" stroke="#3b5a98" stroke-width="0.86"/><g transform="translate(367.72,369.56) rotate(316.57) scale(0.664)"><path d="M0,2 L-3.2,-2.2 Q-3.5,-4 -1.5,-4 L1.5,-4 Q3.5,-4 3.2,-2.2 Z" fill="#3b5a98"/></g><line x1="375.12" y1="368.28" x2="373.28" y2="362.52" stroke="#6b6f85" stroke-width="1.08"/><circle cx="379.50" cy="382.00" r="13.20" fill="#f1ced3" stroke="#5d6580" stroke-width="1.58"/><circle cx="379.50" cy="382.00" r="12.10" fill="none" stroke="#c9c3da" stroke-width="1.15"/><circle cx="379.50" cy="382.00" r="11.38" fill="none" stroke="#9f9ab5" stroke-width="0.43"/><g transform="translate(379.50,382.00) rotate(35) scale(0.664)"><path d="M0,-12.8 C4.5,-12.8 7.4,-2 7.4,4 C7.4,10 4.2,12.8 0,12.8 C-4.2,12.8 -7.4,10 -7.4,4 C-7.4,-2 -4.5,-12.8 0,-12.8 Z" fill="#d6a0c8" stroke="#9c4c82" stroke-width="1.6"/><path d="M-1,-8 C2,-4 -3,0 1,4 C3,7 -1,8 0,10" fill="none" stroke="#b878a8" stroke-width="1"/></g><path d="M304,435.45 L384,435.0 L384,437.0 L304,436.55 Z" fill="url(#arr)"/><path d="M382.5,431.8 L391.8,436 L382.5,440.3 Z" fill="#111"/><g font-family="Liberation Sans, sans-serif"><text x="64.00" y="52.3" font-size="15.8" font-weight="bold" fill="#1e1e1e" textLength="102.39" lengthAdjust="spacingAndGlyphs">HLA-A2 dimer</text><text x="63.60" y="70.1" font-size="15.8" font-weight="normal" fill="#333333" textLength="79.63" lengthAdjust="spacingAndGlyphs">No antigen</text><text x="382.20" y="52.8" font-size="15.8" font-weight="bold" fill="#1e1e1e" textLength="103.94" lengthAdjust="spacingAndGlyphs">HLA-A2 dimer</text><text x="382.20" y="70.6" font-size="15.8" font-weight="normal" fill="#764553" textLength="146.19" lengthAdjust="spacingAndGlyphs">SARS-CoV-2 antigen</text><text x="198.00" y="136.9" font-size="16.2" font-weight="normal" fill="#333333" textLength="77.50" lengthAdjust="spacingAndGlyphs">Anti-CD28</text><text x="548.00" y="136.9" font-size="16.2" font-weight="normal" fill="#333333" textLength="77.50" lengthAdjust="spacingAndGlyphs">Anti-CD28</text><text x="288.60" y="464.6" font-size="15.8" font-weight="bold" fill="#1e1e1e" textLength="116.60" lengthAdjust="spacingAndGlyphs">Lentiviral vector</text><text x="301.40" y="485.5" font-size="15.8" font-weight="bold" fill="#1e1e1e" textLength="92.09" lengthAdjust="spacingAndGlyphs">modification</text></g><rect x="606" y="35" width="26" height="27" fill="#f3e9e8"/><circle cx="617.7" cy="48.6" r="5.6" fill="#c9cdd8" stroke="#1d1d1d" stroke-width="3.4"/><line x1="621.8" y1="44.4" x2="628" y2="38.6" stroke="#1d1d1d" stroke-width="3.8" stroke-linecap="round"/></g>
</svg>
</body></html>
